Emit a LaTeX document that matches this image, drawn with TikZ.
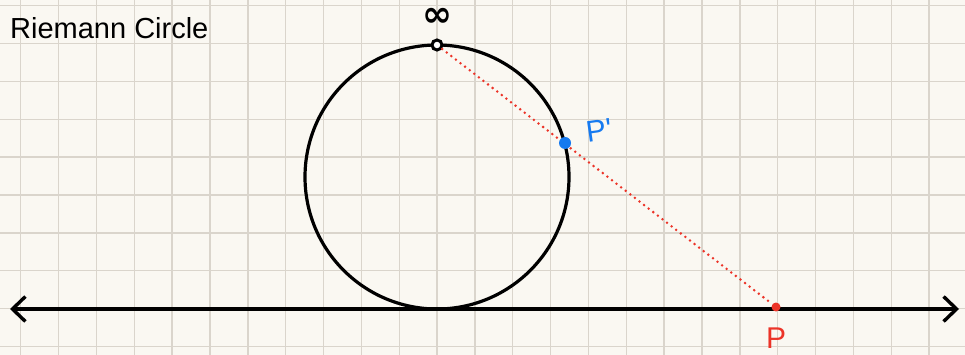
\documentclass[tikz,border=0pt]{standalone}
\usepackage{fontspec}
\usepackage{tikz}
\usetikzlibrary{arrows.meta}
\newfontfamily\handfont{Liberation Sans}
\newfontfamily\symfont{DejaVu Sans}
\definecolor{paper}{RGB}{250,248,242}
\definecolor{gridc}{RGB}{218,213,204}
\definecolor{pblue}{RGB}{22,122,240}
\definecolor{pred}{RGB}{236,52,40}

\begin{document}
\begin{tikzpicture}[x=1pt, y=-1pt,
    gridline/.style={gridc, line width=1.4pt},
    curve/.style={line width=3.2pt},
    barb/.tip={Straight Barb[length=13pt, width=25pt, line width=3.4pt]},
    axis/.style={line width=3.6pt, barb-barb},
    dotline/.style={pred, line width=2.8pt, line cap=round, dash pattern=on 0pt off 5.8pt},
    dot/.style={circle, inner sep=0pt, minimum size=#1},
    opendot/.style={dot=10pt, draw=black, line width=3pt, fill=white},
    label/.style={font=\handfont\fontsize{30}{34}\selectfont}
]
\fill[paper] (0,0) rectangle (965,355);
\useasboundingbox (0,0) rectangle (965,355);
\foreach \i in {0,...,24}
    \draw[gridline] ({20.7+37.85*\i},0) -- ({20.7+37.85*\i},355);
\foreach \j in {0,...,9}
    \draw[gridline] (0,{5.7+37.85*\j}) -- (965,{5.7+37.85*\j});

\node[anchor=west, inner sep=0pt, font=\handfont\fontsize{29}{32}\selectfont] (title) at (10,28) {Riemann Circle};

\draw[curve] (437,177) circle[radius=132];
\coordinate (left) at (10,309);
\coordinate (right) at (959,309);
\draw[axis] (left) -- (right);

\node[opendot] (inf) at (437,45) {};
\node[font=\symfont\bfseries\fontsize{36}{38}\selectfont, inner sep=0pt] (inflabel) at (437,17) {∞};
\node[dot=9pt, fill=pred] (p) at (776,307) {};
\draw[dotline] (inf) -- (p);
\node[dot=12pt, fill=pblue] (pp) at (565,143) {};
\node[label, text=pblue, rotate=8, inner sep=0pt] (pplabel) at (599,130) {P'};
\node[label, text=pred, inner sep=0pt] (plabel) at (776,338) {P};
\end{tikzpicture}
\end{document}
